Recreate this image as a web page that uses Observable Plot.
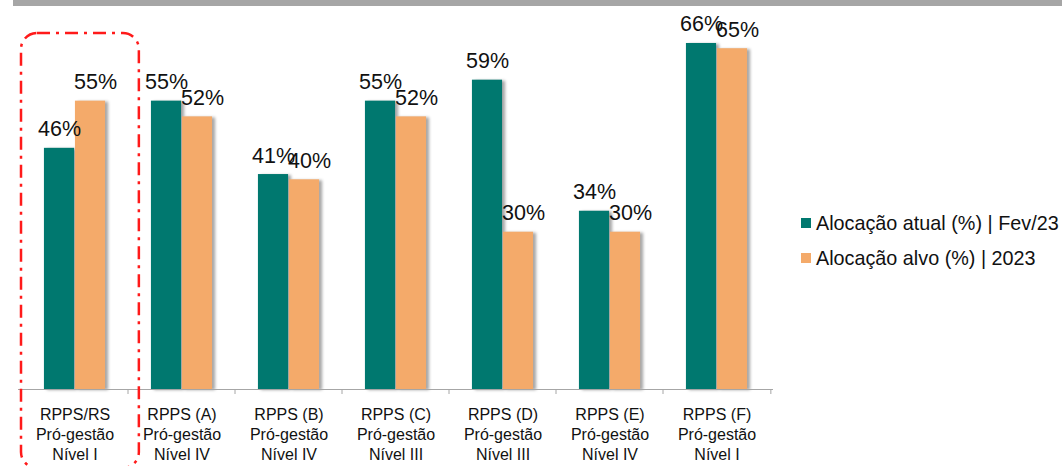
<!DOCTYPE html>
<html>
<head>
<meta charset="utf-8">
<script src="https://cdn.jsdelivr.net/npm/d3@7"></script>
<script src="https://cdn.jsdelivr.net/npm/@observablehq/plot@0.6"></script>
<style>
  html, body { margin: 0; padding: 0; background: #fff; }
  #wrap { position: relative; width: 1062px; height: 466px; overflow: hidden; font-family: "Liberation Sans", Arial, sans-serif; }
  #topbar { position: absolute; left: 13px; top: 0; width: 1049px; height: 6px; background: #a6a6a6; }
  #legend { position: absolute; left: 801px; top: 211px; font-size: 19.8px; color: #111; }
  #legend .row { display: flex; align-items: center; height: 24px; margin-bottom: 11px; white-space: nowrap; }
  #legend .sw { width: 10px; height: 10px; margin-right: 5px; flex: none; }
</style>
</head>
<body>
<div id="wrap">
  <div id="chart"></div>
  <div id="topbar"></div>
  <div id="legend"></div>
</div>
<script>
const categories = [
  "RPPS/RS\nPró-gestão\nNível I",
  "RPPS (A)\nPró-gestão\nNível IV",
  "RPPS (B)\nPró-gestão\nNível IV",
  "RPPS (C)\nPró-gestão\nNível III",
  "RPPS (D)\nPró-gestão\nNível III",
  "RPPS (E)\nPró-gestão\nNível IV",
  "RPPS (F)\nPró-gestão\nNível I"
];
const atual = [46, 55, 41, 55, 59, 34, 66];
const alvo = [55, 52, 40, 52, 30, 30, 65];
const seriesNames = ["Alocação atual (%) | Fev/23", "Alocação alvo (%) | 2023"];
const seriesColors = ["#00786f", "#f4aa6a"];

const dataAtual = categories.map((c, i) => ({category: c, series: seriesNames[0], value: atual[i]}));
const dataAlvo = categories.map((c, i) => ({category: c, series: seriesNames[1], value: alvo[i]}));

const W = 1062, H = 466;
const mL = 18, mR = 289, mT = 22, mB = 77;
const step = (W - mL - mR) / categories.length;
const barW = 31;
const outer = (step - 2 * barW) / 2;

function boundaryTicks(index, scales, values, dims) {
  const x = scales.x, y = scales.y;
  const g = d3.create("svg:g");
  const y0 = y(0);
  const starts = categories.map(c => x(c));
  starts.push(x(categories[categories.length - 1]) + step);
  for (const px of starts) {
    g.append("line").attr("x1", px).attr("x2", px).attr("y1", y0).attr("y2", y0 + 5)
      .attr("stroke", "#a6a6a6").attr("stroke-width", 1);
  }
  return g.node();
}

function highlightBox(index, scales, values, dims) {
  const x = scales.x;
  const x0 = x(categories[0]);
  const x1 = x0 + step + 10;
  const top = 33, bottom = H + 2, r = 16;
  const g = d3.create("svg:g");
  g.append("rect").attr("x", x0).attr("y", top).attr("width", x1 - x0).attr("height", bottom - top)
    .attr("rx", r).attr("ry", r)
    .attr("fill", "none").attr("stroke", "#ff1a1a").attr("stroke-width", 2.5)
    .attr("stroke-dasharray", "13 6 3 6");
  return g.node();
}

const chart = Plot.plot({
  width: W,
  height: H,
  marginLeft: mL,
  marginRight: mR,
  marginTop: mT,
  marginBottom: mB,
  style: {fontFamily: "'Liberation Sans', Arial, sans-serif", background: "transparent", overflow: "visible"},
  x: {type: "band", domain: categories, paddingInner: 0, paddingOuter: 0},
  y: {domain: [0, 70], axis: null},
  marks: [
    Plot.barY(dataAtual, {x: "category", y: "value", fill: seriesColors[0], insetLeft: outer, insetRight: outer + barW}),
    Plot.barY(dataAlvo, {x: "category", y: "value", fill: seriesColors[1], insetLeft: outer + barW, insetRight: outer}),
    Plot.ruleY([0], {stroke: "#a6a6a6", strokeWidth: 1.2}),
    boundaryTicks,
    Plot.text(dataAtual, {x: "category", y: "value", text: d => d.value + "%", dx: -barW / 2, dy: -12, lineAnchor: "bottom", fontSize: 21.5, fill: "#111"}),
    Plot.text(dataAlvo, {x: "category", y: "value", text: d => d.value + "%", dx: barW / 2 + 5, dy: -12, lineAnchor: "bottom", fontSize: 21.5, fill: "#111"}),
    Plot.axisX({tickSize: 0, tickPadding: 16, fontSize: 16, lineHeight: 1.25, fill: "#111", label: null}),
    highlightBox
  ]
});

chart.querySelectorAll('g[aria-label="bar"]').forEach(g => {
  g.style.filter = "drop-shadow(3px 1px 1.5px rgba(0,0,0,0.35))";
});

document.getElementById("chart").appendChild(chart);

const legend = document.getElementById("legend");
seriesNames.forEach((name, i) => {
  const row = document.createElement("div");
  row.className = "row";
  const sw = document.createElement("span");
  sw.className = "sw";
  sw.style.background = seriesColors[i];
  const t = document.createElement("span");
  t.textContent = name;
  row.appendChild(sw);
  row.appendChild(t);
  legend.appendChild(row);
});
</script>
</body>
</html>
